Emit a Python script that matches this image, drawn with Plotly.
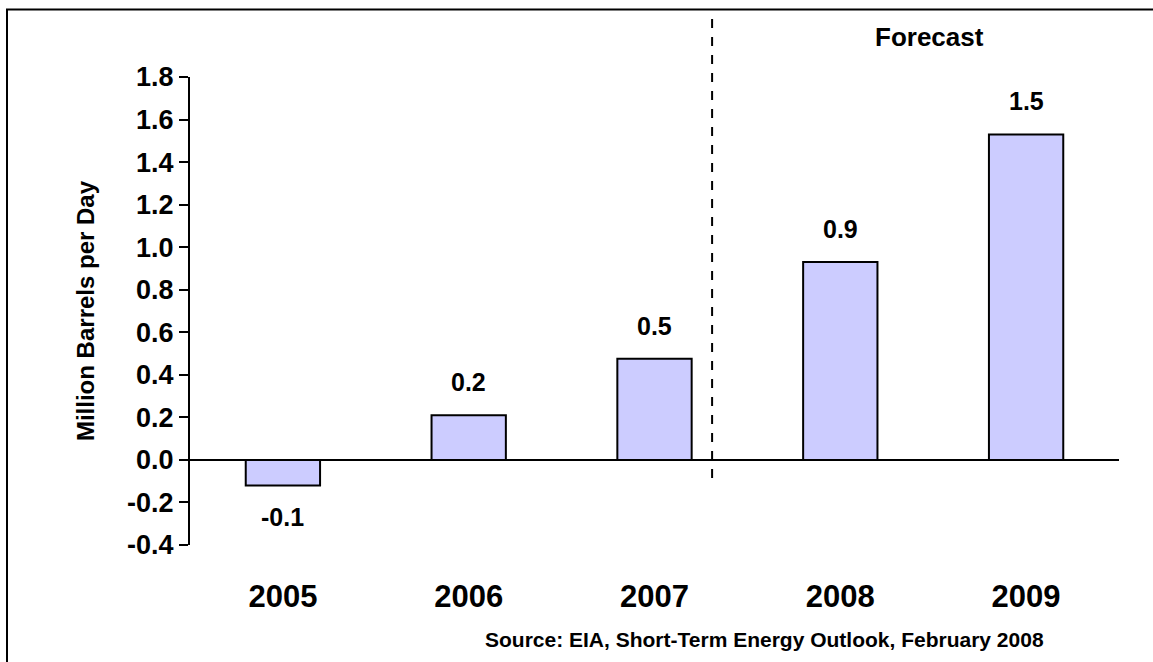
import plotly.graph_objects as go

years = ["2005", "2006", "2007", "2008", "2009"]
values = [-0.12, 0.21, 0.475, 0.93, 1.53]
labels = ["-0.1", "0.2", "0.5", "0.9", "1.5"]
y_ticks = [-0.4, -0.2, 0.0, 0.2, 0.4, 0.6, 0.8, 1.0, 1.2, 1.4, 1.6, 1.8]
y_tick_text = [f"{v:.1f}" for v in y_ticks]

FONT = "Liberation Sans, Arial, sans-serif"

W, H = 1153, 662
ml, mr, mt, mb = 190, 34, 76.5, 117
pw, ph = W - ml - mr, H - mt - mb


def px_x(p):
    return (p - ml) / pw


def px_y(p):
    return (H - mb - p) / ph


fig = go.Figure()
fig.add_trace(go.Bar(
    x=list(range(len(years))), y=values,
    width=0.4,
    marker=dict(color="#CCCCFF", line=dict(color="black", width=2)),
    hoverinfo="skip",
))

# Data labels above / below bars
for i, (v, lab) in enumerate(zip(values, labels)):
    fig.add_annotation(
        x=i, y=v, xref="x", yref="y", text=f"<b>{lab}</b>", showarrow=False,
        xanchor="center", yanchor="middle", yshift=33 if v >= 0 else -32,
        font=dict(family=FONT, size=25, color="black"),
    )

fig.update_layout(
    width=W, height=H,
    margin=dict(l=ml, r=mr, t=mt, b=mb),
    paper_bgcolor="white", plot_bgcolor="white",
    showlegend=False,
    font=dict(family=FONT, color="black"),
    xaxis=dict(
        range=[-0.5, len(years) - 0.5],
        tickmode="array", tickvals=list(range(len(years))),
        ticktext=[f"<b>{t}</b>" for t in years],
        tickfont=dict(family=FONT, size=31, color="black"),
        showline=False, showgrid=False, zeroline=False, ticks="",
        ticklabelstandoff=30,
    ),
    yaxis=dict(
        range=[-0.4, 1.8],
        tickmode="array", tickvals=y_ticks,
        ticktext=[f"<b>{t}</b>" for t in y_tick_text],
        tickfont=dict(family=FONT, size=27, color="black"),
        showline=True, linecolor="black", linewidth=2,
        ticks="outside", ticklen=9, tickwidth=2, tickcolor="black",
        showgrid=False,
        zeroline=True, zerolinecolor="black", zerolinewidth=2,
        title=dict(text="<b>Million Barrels per Day</b>",
                   font=dict(family=FONT, size=24, color="black"),
                   standoff=26),
    ),
)

# Forecast divider (dashed)
fig.add_shape(type="line", xref="x", yref="paper",
              x0=2.31, x1=2.31, y0=px_y(478), y1=px_y(9),
              line=dict(color="black", width=2, dash="dash"))

# Outer frame
fig.add_shape(type="rect", xref="paper", yref="paper",
              x0=px_x(7), x1=px_x(1175), y0=px_y(690), y1=px_y(9),
              line=dict(color="black", width=2), fillcolor="rgba(0,0,0,0)",
              layer="above")

fig.add_annotation(text="<b>Forecast</b>", xref="paper", yref="paper",
                   x=px_x(929), y=px_y(36), showarrow=False,
                   xanchor="center", yanchor="middle",
                   font=dict(family=FONT, size=26, color="black"))

fig.add_annotation(text="<b>Source: EIA, Short-Term Energy Outlook, February 2008</b>",
                   xref="paper", yref="paper",
                   x=px_x(764), y=px_y(640), showarrow=False,
                   xanchor="center", yanchor="middle",
                   font=dict(family=FONT, size=21, color="black"))

fig.write_html("out.html", config={"displayModeBar": False},
               post_script="document.body.style.margin='0px';")
